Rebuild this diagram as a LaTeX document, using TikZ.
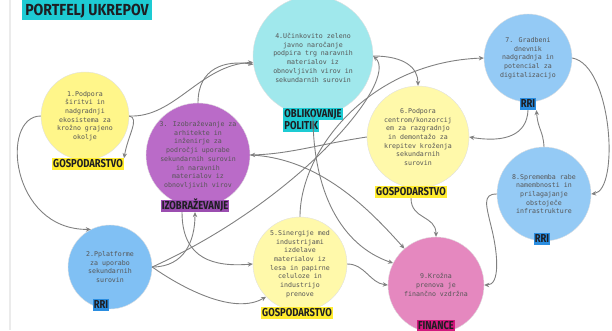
\documentclass[tikz,border=0pt]{standalone}
\usepackage{fontspec}
\usepackage{xcolor}
\definecolor{bubble-yellow}{RGB}{255,246,138}
\definecolor{bubble-pale}{RGB}{255,249,170}
\definecolor{bubble-purple}{RGB}{186,107,200}
\definecolor{bubble-cyan}{RGB}{160,232,236}
\definecolor{bubble-blue}{RGB}{128,192,244}
\definecolor{bubble-sky}{RGB}{148,202,245}
\definecolor{bubble-pink}{RGB}{229,136,191}
\definecolor{tag-yellow}{RGB}{255,236,46}
\definecolor{tag-purple}{RGB}{155,77,176}
\definecolor{tag-teal}{RGB}{29,203,211}
\definecolor{tag-blue}{RGB}{42,141,224}
\definecolor{tag-magenta}{RGB}{210,24,125}
\definecolor{text-body}{RGB}{85,85,85}
\definecolor{text-tag}{RGB}{30,30,34}
\definecolor{line-grey}{RGB}{128,128,128}
\usepackage{tikz}
\usetikzlibrary{positioning,arrows.meta}
\newfontfamily\tagfont[FakeStretch=0.82]{Fira Sans}
\newfontfamily\titlefont[FakeStretch=0.88]{Fira Sans}
\newfontfamily\bubblefont{DejaVu Sans Mono}

\begin{document}
\begin{tikzpicture}[
  x=1pt, y=1pt,
  bubble/.style={
    circle,
    draw=black!12,
    line width=0.4pt,
    inner sep=0pt,
    align=center,
    text=text-body,
    font=\bubblefont\fontsize{6.6}{8.7}\selectfont
  },
  tag/.style={
    rectangle,
    inner xsep=1pt,
    inner ysep=1.5pt,
    text height=8pt,
    text depth=0.5pt,
    text=text-tag,
    font=\tagfont\bfseries\fontsize{11.5}{12}\selectfont
  },
  conn/.style={
    -{Stealth[length=5pt,width=4.5pt]},
    line width=0.9pt,
    draw=line-grey
  }
]
\useasboundingbox (0,0) rectangle (612,330);
\draw[black!8, line width=1.5pt] (10,0) -- (10,330);

% Title
\node[tag, fill=tag-teal, minimum width=130pt, minimum height=20pt,
  text height=11pt, font=\titlefont\bfseries\fontsize{16}{17}\selectfont] (title) at (87,320) {PORTFELJ UKREPOV};

% Measures
\node[bubble, fill=bubble-yellow, minimum size=88pt] (c1) at (85,214)
  {1.Podpora\\širitvi in\\nadgradnji\\ekosistema za\\krožno grajeno\\okolje};
\node[bubble, fill=bubble-blue, minimum size=84pt] (c2) at (110,63)
  {2.Pplatforme\\za uporabo\\sekundarnih\\surovin};
\node[bubble, fill=bubble-purple, minimum size=104pt] (c3) at (198,175)
  {3. Izobraževanje za\\arhitekte in\\inženirje za\\področji uporabe\\sekundarnih surovin\\in naravnih\\materialov iz\\obnovljivih virov};
\node[bubble, fill=bubble-cyan, minimum size=120pt] (c4) at (313,274)
  {\\4.Učinkovito zeleno\\javno naročanje\\podpira trg naravnih\\materialov iz\\obnovljivih virov in\\sekundarnih surovin};
\node[bubble, fill=bubble-pale, minimum size=94pt] (c5) at (300,66)
  {5.Sinergije med\\industrijami\\izdelave\\materialov iz\\lesa in papirne\\celuloze in\\industrijo\\prenove};
\node[bubble, fill=bubble-pale, minimum size=102pt] (c6) at (418,193)
  {6.Podpora\\centrom/konzorcij\\em za razgradnjo\\in demontažo za\\krepitev kroženja\\sekundarnih\\surovin};
\node[bubble, fill=bubble-sky, minimum size=88pt] (c7) at (528,272)
  {7. Gradbeni\\dnevnik\\nadgradnja in\\potencial za\\digitalizacijo};
\node[bubble, fill=bubble-sky, minimum size=94pt] (c8) at (544,136)
  {8.Sprememba rabe\\namembnosti in\\prilagajanje\\obstoječe\\infrastrukture};
\node[bubble, fill=bubble-pink, minimum size=96pt] (c9) at (436,45)
  {9.Krožna\\prenova je\\finančno vzdržna};

% Areas
\node[tag, fill=tag-yellow, below=-2pt of c1, xshift=3pt] (g1) {GOSPODARSTVO};
\node[tag, fill=tag-blue, below=-10pt of c2, xshift=-9pt] (r2) {RRI};
\node[tag, fill=tag-purple, below=-7pt of c3, xshift=-3pt] (l3) {IZOBRAŽEVANJE};
\node[tag, fill=tag-teal, below=-8pt of c4] (l4a) {OBLIKOVANJE};
\node[tag, fill=tag-teal, anchor=north west] (l4b) at (l4a.south west) {POLITIK};
\node[tag, fill=tag-yellow, below=-4pt of c5, xshift=-3pt] (g5) {GOSPODARSTVO};
\node[tag, fill=tag-yellow, below=-2pt of c6, xshift=-7pt] (g6) {GOSPODARSTVO};
\node[tag, fill=tag-blue, below=-4pt of c7] (r7) {RRI};
\node[tag, fill=tag-blue, below=-8pt of c8, xshift=-2pt] (r8) {RRI};
\node[tag, fill=tag-magenta, below=-13pt of c9] (f9) {FINANCE};

% Connectors
\draw[conn] (c1.west) .. controls (0,214) and (10,100) .. (c2.117);
\draw[conn] (c1.east) .. controls (175,212) and (200,265) .. (c4.186);
\draw[conn] (c1.east) .. controls (140,212) and (128,195) .. (g1.north east);
\draw[conn] (c3.north) .. controls (198,262) and (225,270) .. (c4.188);
\draw[conn] (c6.west) .. controls (320,186) and (290,176) .. (c3.east);
\draw[conn] (c3.east) .. controls (320,172) and (370,120) .. (c9.131);
\draw[conn] (c2.east) .. controls (185,63) and (195,90) .. (l3.south);
\draw[conn] ([xshift=-13pt]l3.south) .. controls (182,70) and (215,63) .. (c5.west);
\draw[conn] (c2.east) .. controls (185,40) and (235,15) .. (c5.224);
\draw[conn] (c2.east) .. controls (300,130) and (400,250) .. (c4.east);
\draw[conn] (c5.north) .. controls (300,180) and (370,268) .. (c7.west);
\draw[conn] (c4.east) .. controls (405,274) and (418,262) .. (c6.north);
\draw[conn] (c4.south) .. controls (313,140) and (340,85) .. (c9.153);
\draw[conn] (c5.east) .. controls (365,66) and (370,47) .. (c9.west);
\draw[conn] (g6.south) .. controls (411,110) and (436,115) .. (c9.north);
\draw[conn] (r7.south) .. controls (527,195) and (505,187) .. (c6.east);
\draw[conn] (c8.north) .. controls (543,200) and (538,200) .. (r7.south east);
\draw[conn] (c7.east) .. controls (612,265) and (620,140) .. (c8.east);
\draw[conn] (c8.west) .. controls (482,136) and (486,125) .. (492,100)
  .. controls (498,75) and (500,45) .. (c9.east);

\end{tikzpicture}
\end{document}
